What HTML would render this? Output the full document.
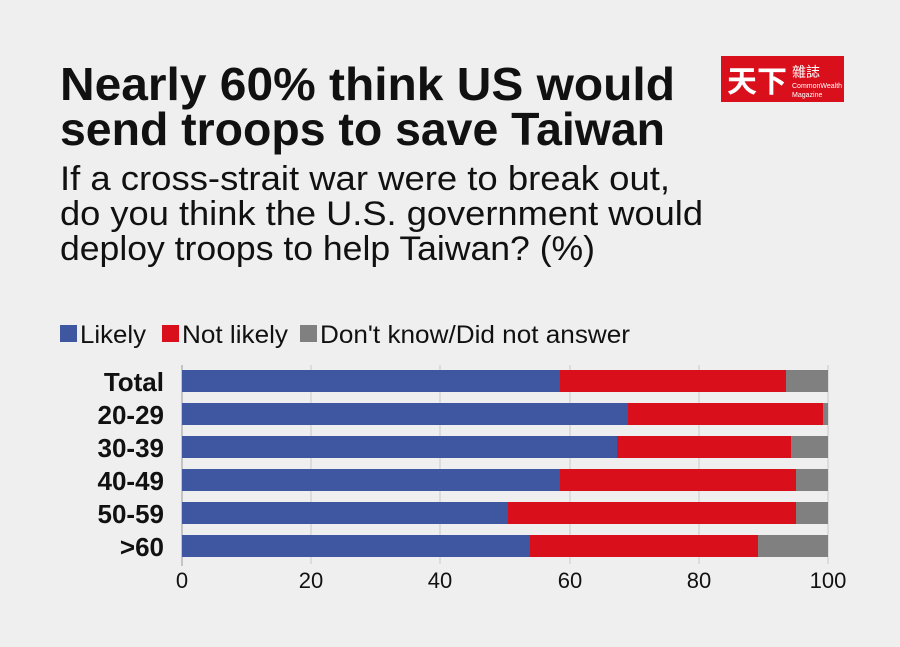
<!DOCTYPE html>
<html><head><meta charset="utf-8"><style>
html,body{margin:0;padding:0;background:#efefef}
svg{display:block}
text{font-family:"Liberation Sans Narrow","Liberation Sans",sans-serif}
</style></head><body>
<svg width="900" height="647" viewBox="0 0 900 647" xmlns="http://www.w3.org/2000/svg">
<rect width="900" height="647" fill="#efefef"/>
<text x="60" y="100" font-size="46" font-weight="bold" fill="#111" textLength="615" lengthAdjust="spacingAndGlyphs">Nearly 60% think US would</text>
<text x="60" y="145" font-size="46" font-weight="bold" fill="#111" textLength="605" lengthAdjust="spacingAndGlyphs">send troops to save Taiwan</text>
<text x="60" y="190" font-size="34" fill="#111" textLength="610" lengthAdjust="spacingAndGlyphs">If a cross-strait war were to break out,</text>
<text x="60" y="225" font-size="34" fill="#111" textLength="643" lengthAdjust="spacingAndGlyphs">do you think the U.S. government would</text>
<text x="60" y="260" font-size="34" fill="#111" textLength="535" lengthAdjust="spacingAndGlyphs">deploy troops to help Taiwan? (%)</text>
<rect x="721" y="56" width="123" height="46" fill="#d9101c"/>
<text x="727" y="92" font-size="30" font-weight="bold" fill="#fff" font-family="Noto Sans CJK TC,sans-serif" style="font-family:'Noto Sans CJK TC',sans-serif">天下</text>
<text x="792" y="77" font-size="14" fill="#fff" style="font-family:'Noto Sans CJK TC',sans-serif">雜誌</text>
<text x="792" y="88" font-size="7" fill="#fff">CommonWealth</text>
<text x="792" y="97" font-size="7" fill="#fff">Magazine</text>
<rect x="60" y="325" width="17" height="17" fill="#3f57a0"/>
<text x="80" y="343" font-size="25" fill="#111" textLength="66" lengthAdjust="spacingAndGlyphs">Likely</text>
<rect x="162" y="325" width="17" height="17" fill="#d9101c"/>
<text x="182" y="343" font-size="25" fill="#111" textLength="106" lengthAdjust="spacingAndGlyphs">Not likely</text>
<rect x="300" y="325" width="17" height="17" fill="#808080"/>
<text x="320" y="343" font-size="25" fill="#111" textLength="310" lengthAdjust="spacingAndGlyphs">Don't know/Did not answer</text>
<g stroke="#c8c8c8" stroke-width="1">
<line x1="311" y1="365" x2="311" y2="564"/><line x1="440" y1="365" x2="440" y2="564"/>
<line x1="570" y1="365" x2="570" y2="564"/><line x1="699" y1="365" x2="699" y2="564"/>
<line x1="828" y1="365" x2="828" y2="564"/>
</g>
<line x1="182" y1="365" x2="182" y2="566" stroke="#999" stroke-width="1"/>
<g>
<rect x="182" y="370" width="378" height="22" fill="#3f57a0"/><rect x="560" y="370" width="226" height="22" fill="#d9101c"/><rect x="786" y="370" width="42" height="22" fill="#808080"/>
<rect x="182" y="403" width="446" height="22" fill="#3f57a0"/><rect x="628" y="403" width="195" height="22" fill="#d9101c"/><rect x="823" y="403" width="5" height="22" fill="#808080"/>
<rect x="182" y="436" width="435" height="22" fill="#3f57a0"/><rect x="617" y="436" width="174" height="22" fill="#d9101c"/><rect x="791" y="436" width="37" height="22" fill="#808080"/>
<rect x="182" y="469" width="378" height="22" fill="#3f57a0"/><rect x="560" y="469" width="236" height="22" fill="#d9101c"/><rect x="796" y="469" width="32" height="22" fill="#808080"/>
<rect x="182" y="502" width="326" height="22" fill="#3f57a0"/><rect x="508" y="502" width="288" height="22" fill="#d9101c"/><rect x="796" y="502" width="32" height="22" fill="#808080"/>
<rect x="182" y="535" width="348" height="22" fill="#3f57a0"/><rect x="530" y="535" width="228" height="22" fill="#d9101c"/><rect x="758" y="535" width="70" height="22" fill="#808080"/>
</g>
<g font-size="26" font-weight="bold" fill="#111" text-anchor="end">
<text x="164" y="391">Total</text><text x="164" y="424">20-29</text><text x="164" y="457">30-39</text>
<text x="164" y="490">40-49</text><text x="164" y="523">50-59</text><text x="164" y="556">&gt;60</text>
</g>
<g font-size="22" fill="#111" text-anchor="middle">
<text x="182" y="588">0</text><text x="311" y="588">20</text><text x="440" y="588">40</text>
<text x="570" y="588">60</text><text x="699" y="588">80</text><text x="828" y="588">100</text>
</g>
</svg>
</body></html>
